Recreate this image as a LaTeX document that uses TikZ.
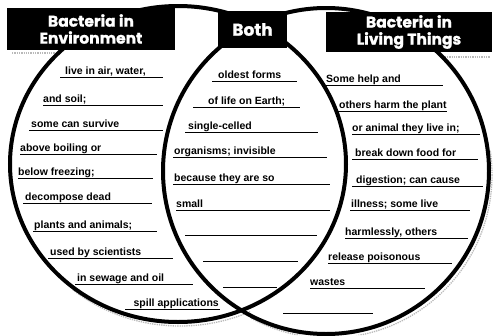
\documentclass[tikz,border=0pt]{standalone}
\usepackage{fontspec}
\setmainfont{Liberation Sans}
\newfontfamily\headfont[BoldFeatures={FakeBold=1.2}]{Poppins}
\begin{document}
\begin{tikzpicture}[x=1pt,y=-1pt,
  ell/.style={line width=4pt},
  headbox/.style={fill=black, text=white, inner sep=0pt, align=center,
    font=\headfont\bfseries\fontsize{15.5}{17}\selectfont},
  txt/.style={anchor=base west, inner sep=0pt, font=\bfseries\fontsize{10.5}{12}\selectfont},
  uline/.style={line width=0.8pt},
  shade/.style={gray!55, line width=1.3pt, densely dotted}]
\fill[white] (0,0) rectangle (493,335);
\useasboundingbox (0,0) rectangle (493,335);
% shadows
\begin{scope}
  \clip (330,150) rectangle (493,335) (250,300) rectangle (330,335);
  \draw[shade] (329,175) ellipse[x radius=163, y radius=163];
\end{scope}
\begin{scope}
  \clip (60,290) rectangle (250,335);
  \draw[shade] (180,168) ellipse[x radius=168, y radius=158];
\end{scope}
\draw[shade] (12,53) -- (60,53);
\draw[shade] (440,57) -- (490,57);
% ellipses
\draw[ell] (178,164) ellipse[x radius=168, y radius=158];
\draw[ell] (326,171) ellipse[x radius=163, y radius=163];
% heading boxes
\node[headbox, minimum width=168, minimum height=42] (env) at (91,29) {Bacteria in\\Environment};
\node[headbox, minimum width=69, minimum height=37, font=\headfont\bfseries\fontsize{17}{18}\selectfont] (both) at (252.5,29.5) {Both};
\node[headbox, minimum width=166, minimum height=40] (liv) at (409,32) {Bacteria in\\Living Things};
% left column
\node[txt] (l1) at (65,74) {live in air, water,};
\node[txt] (l2) at (43,102) {and soil;};
\node[txt] (l3) at (31,127) {some can survive};
\node[txt] (l4) at (20,151) {above boiling or};
\node[txt] (l5) at (18,175) {below freezing;};
\node[txt] (l6) at (25,200) {decompose dead};
\node[txt] (l7) at (34,228) {plants and animals;};
\node[txt] (l8) at (50,255) {used by scientists};
\node[txt] (l9) at (77,281) {in sewage and oil};
\node[txt, anchor=base east] (l10) at (219,306) {spill applications};
\draw[uline] (60,77) -- (163,77);
\draw[uline] (43,105) -- (163,105);
\draw[uline] (29,130) -- (163,130);
\draw[uline] (20,154) -- (157,154);
\draw[uline] (18,178) -- (153,178);
\draw[uline] (23,203) -- (152,203);
\draw[uline] (33,231) -- (157,231);
\draw[uline] (48,258) -- (173,258);
\draw[uline] (75,284) -- (193,284);
\draw[uline] (125,309) -- (220,309);
% middle column
\node[txt] (m1) at (218,78) {oldest forms};
\node[txt] (m2) at (208,104) {of life on Earth;};
\node[txt] (m3) at (188,129) {single-celled};
\node[txt] (m4) at (174,154) {organisms; invisible};
\node[txt] (m5) at (174,181) {because they are so};
\node[txt] (m6) at (176,207) {small};
\draw[uline] (212,81) -- (297,81);
\draw[uline] (193,107) -- (300,107);
\draw[uline] (185,132) -- (318,132);
\draw[uline] (173,157) -- (327,157);
\draw[uline] (173,184) -- (330,184);
\draw[uline] (176,210) -- (330,210);
\draw[uline] (185,235) -- (317,235);
\draw[uline] (203,261) -- (298,261);
\draw[uline] (223,287) -- (277,287);
% right column
\node[txt] (r1) at (326,82) {Some help and};
\node[txt] (r2) at (339,108) {others harm the plant};
\node[txt] (r3) at (352,131) {or animal they live in;};
\node[txt] (r4) at (355,156) {break down food for};
\node[txt] (r5) at (356,183) {digestion; can cause};
\node[txt] (r6) at (351,207) {illness; some live};
\node[txt] (r7) at (345,235) {harmlessly, others};
\node[txt] (r8) at (328,260) {release poisonous};
\node[txt] (r9) at (310,285) {wastes};
\draw[uline] (325,85) -- (443,85);
\draw[uline] (338,111) -- (447,111);
\draw[uline] (352,134) -- (480,134);
\draw[uline] (352,159) -- (478,159);
\draw[uline] (352,186) -- (483,186);
\draw[uline] (350,210) -- (470,210);
\draw[uline] (345,238) -- (468,238);
\draw[uline] (328,263) -- (452,263);
\draw[uline] (310,288) -- (425,288);
\draw[uline] (283,313) -- (373,313);
\end{tikzpicture}
\end{document}
